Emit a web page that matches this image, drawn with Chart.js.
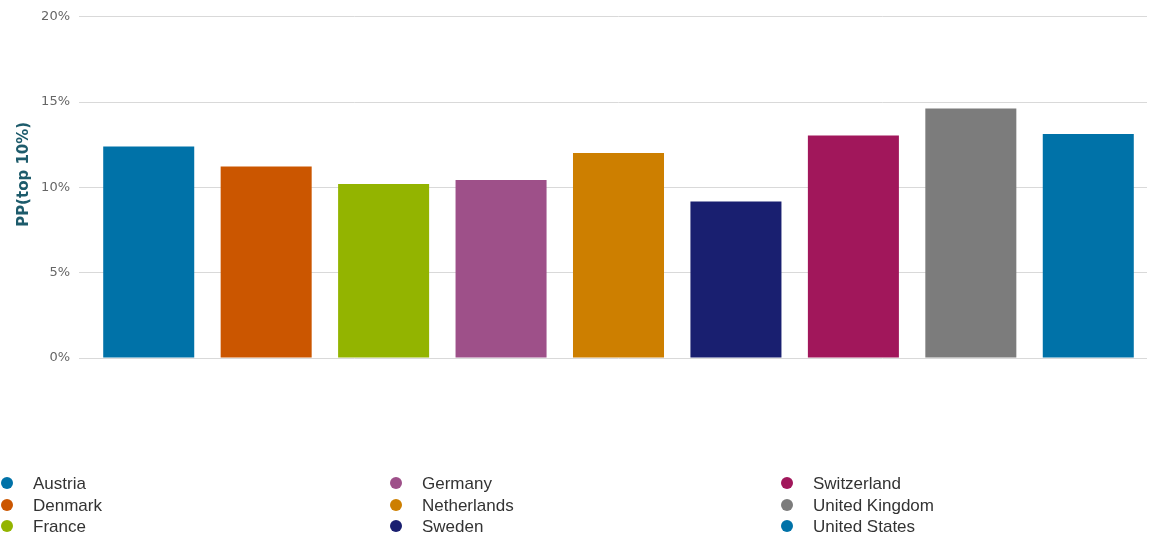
<!DOCTYPE html>
<html>
<head>
<meta charset="utf-8">
<script src="https://cdn.jsdelivr.net/npm/chart.js@4/dist/chart.umd.min.js"></script>
<style>
    body { margin: 0; background: #fff; }
    #wrap { position: relative; width: 1150px; height: 537px; }
    #legend {
        position: absolute; left: 0; top: 473px; width: 1150px;
        display: grid; grid-template-columns: 389px 391px 370px;
        grid-auto-flow: column; grid-template-rows: repeat(3, 21.5px);
        font-family: "Liberation Sans", Arial, sans-serif; font-size: 17px; color: #333;
    }
    .item { position: relative; padding-left: 33px; line-height: 21.5px; white-space: nowrap; }
    .dot { position: absolute; left: 1px; top: 4px; width: 12px; height: 12px; border-radius: 50%; }
</style>
</head>
<body>
<div id="wrap">
    <canvas id="chart" width="1150" height="537"></canvas>
    <div id="legend"></div>
</div>
<script>
const countries = ['Austria', 'Denmark', 'France', 'Germany', 'Netherlands', 'Sweden', 'Switzerland', 'United Kingdom', 'United States'];
const ppTop10 = [12.4, 11.23, 10.2, 10.44, 12.02, 9.18, 13.04, 14.62, 13.13];
const barColors = ['#0072a8', '#cb5600', '#93b400', '#9e5089', '#cd7f00', '#191f70', '#a1175b', '#7c7c7c', '#0072a8'];
const yTicks = [0, 5, 10, 15, 20];

const chart = new Chart(document.getElementById('chart'), {
    type: 'bar',
    data: {
        labels: countries,
        datasets: [{
            label: 'PP(top 10%)',
            data: ppTop10,
            backgroundColor: barColors,
            barPercentage: 0.775,
            categoryPercentage: 1
        }]
    },
    options: {
        responsive: false,
        animation: false,
        layout: { padding: { top: 16, right: 3, bottom: 179, left: 0 } },
        plugins: {
            legend: { display: false },
            tooltip: { enabled: false }
        },
        scales: {
            x: { display: false },
            y: {
                min: 0,
                max: 20,
                afterBuildTicks: scale => { scale.ticks = yTicks.map(v => ({ value: v })); },
                afterFit: scale => { scale.width = 90; },
                border: { display: false },
                grid: { color: '#d9d9d9', tickLength: 11 },
                ticks: {
                    padding: 9,
                    color: '#666',
                    font: { family: 'DejaVu Sans', size: 13 },
                    callback: v => v + '%'
                },
                title: {
                    display: true,
                    // leading spaces nudge the title up, as in the original
                    text: '     PP(top 10%)',
                    color: '#1d5b6b',
                    padding: { top: 15, bottom: 0 },
                    font: { family: 'DejaVu Sans', size: 15, weight: 'bold' }
                }
            }
        }
    }
});

// legend in three columns, filled top to bottom
const legendDiv = document.getElementById('legend');
chart.data.labels.forEach((name, i) => {
    const item = document.createElement('div');
    item.className = 'item';
    item.innerHTML = `<span class="dot" style="background:${barColors[i]}"></span>${name}`;
    legendDiv.appendChild(item);
});
</script>
</body>
</html>
